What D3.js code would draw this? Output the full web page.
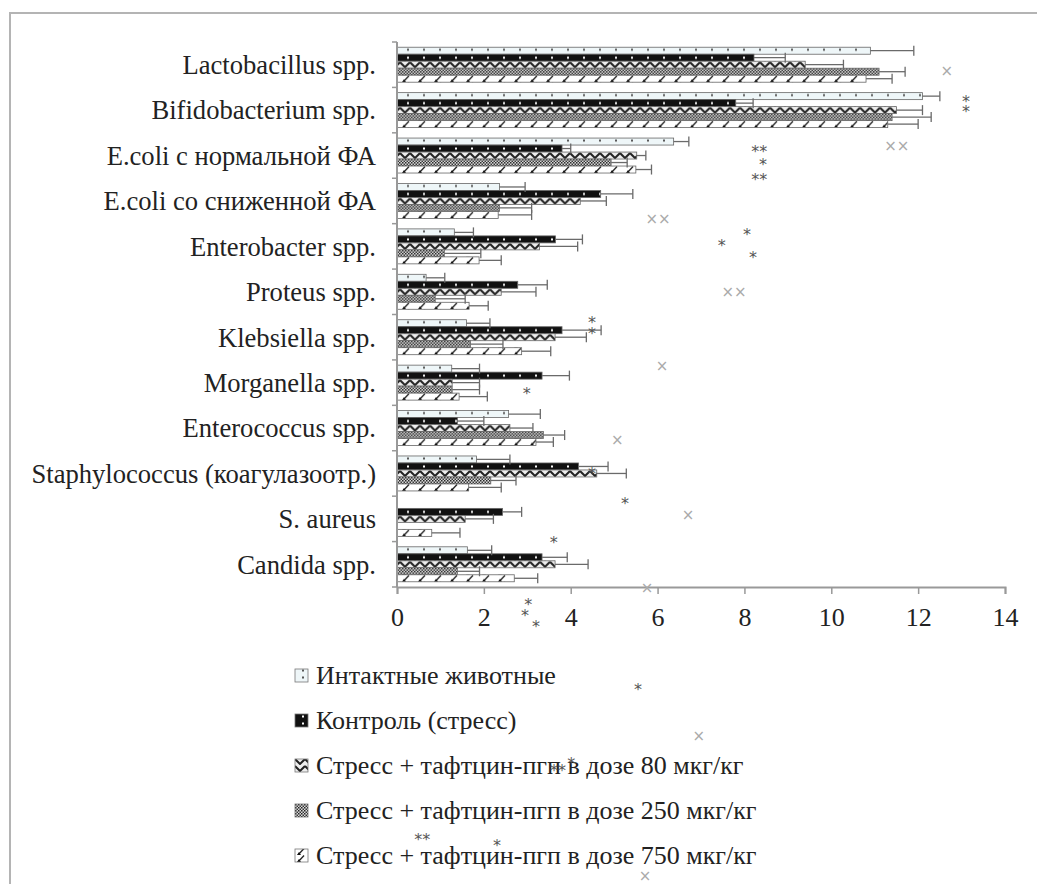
<!DOCTYPE html>
<html>
<head>
<meta charset="utf-8">
<script src="https://cdn.jsdelivr.net/npm/d3@7"></script>
</head>
<body style="margin:0">
<svg id="chart" width="1037" height="884"></svg>
<script>
// ---------- data ----------
const categories = [
  "Lactobacillus spp.",
  "Bifidobacterium spp.",
  "E.coli с нормальной ФА",
  "E.coli со сниженной ФА",
  "Enterobacter spp.",
  "Proteus spp.",
  "Klebsiella spp.",
  "Morganella spp.",
  "Enterococcus spp.",
  "Staphylococcus (коагулазоотр.)",
  "S. aureus",
  "Candida spp."
];
const seriesNames = [
  "Интактные животные",
  "Контроль (стресс)",
  "Стресс + тафтцин-пгп в дозе 80 мкг/кг",
  "Стресс + тафтцин-пгп в дозе 250 мкг/кг",
  "Стресс + тафтцин-пгп в дозе 750 мкг/кг"
];
const intactValues  = [10.9, 12.1, 6.37, 2.36, 1.32, 0.67, 1.60, 1.26, 2.57, 1.83, 0.00, 1.62];
const intactErrors  = [1.00, 0.40, 0.35, 0.59, 0.44, 0.43, 0.54, 0.64, 0.73, 0.77, 0.00, 0.56];
const controlValues = [8.22, 7.80, 3.80, 4.69, 3.65, 2.78, 3.80, 3.34, 1.39, 4.18, 2.43, 3.34];
const controlErrors = [0.72, 0.40, 0.20, 0.74, 0.62, 0.68, 0.90, 0.63, 0.61, 0.68, 0.44, 0.58];
const dose80Values  = [9.40, 11.5, 5.52, 4.22, 3.28, 2.40, 3.64, 1.27, 2.60, 4.60, 1.57, 3.64];
const dose80Errors  = [0.88, 0.60, 0.21, 0.60, 0.88, 0.80, 0.72, 0.63, 0.53, 0.68, 0.65, 0.76];
const dose250Values = [11.1, 11.4, 4.93, 2.36, 1.09, 0.88, 1.69, 1.27, 3.37, 2.16, 0.00, 1.39];
const dose250Errors = [0.60, 0.90, 0.37, 0.74, 0.84, 0.69, 0.75, 0.63, 0.49, 0.58, 0.00, 0.51];
const dose750Values = [10.8, 11.3, 5.50, 2.33, 1.89, 1.66, 2.87, 1.43, 3.20, 1.65, 0.80, 2.70];
const dose750Errors = [0.60, 0.70, 0.36, 0.77, 0.51, 0.44, 0.67, 0.65, 0.40, 0.75, 0.65, 0.54];
const xTicks = [0, 2, 4, 6, 8, 10, 12, 14];

// stray significance marks of the source picture: [x value, row position (in category rows), text]
const starMarks = [
  [13.10, 1.21, "*"], [13.10, 1.45, "*"],
  [8.34, 2.31, "**"], [8.43, 2.60, "*"], [8.34, 2.93, "**"],
  [8.06, 4.14, "*"], [7.48, 4.40, "*"], [8.20, 4.65, "*"],
  [4.49, 6.08, "*"], [4.49, 6.32, "*"], [2.99, 7.66, "*"],
  [4.49, 9.40, "*"], [5.25, 10.08, "*"], [3.61, 10.94, "*"],
  [3.02, 12.29, "*"], [2.95, 12.53, "*"], [3.20, 12.77, "*"],
  [5.55, 14.16, "*"], [3.71, 15.96, "**"], [4.01, 15.79, "*"],
  [0.58, 17.46, "**"], [2.30, 17.61, "*"]
];
const crossMarks = [
  [12.66, 0.64, "×"], [11.51, 2.29, "××"], [6.01, 3.90, "××"],
  [7.76, 5.50, "××"], [6.10, 7.13, "×"], [5.07, 8.76, "×"],
  [6.70, 10.41, "×"], [5.76, 12.02, "×"], [6.95, 15.28, "×"],
  [5.71, 18.36, "×"]
];

const seriesValues = [intactValues, controlValues, dose80Values, dose250Values, dose750Values];
const seriesErrors = [intactErrors, controlErrors, dose80Errors, dose250Errors, dose750Errors];

const SERIF = "'Liberation Serif'";

// ---------- layout ----------
const svg = d3.select("#chart");
const plotLeft = 397, plotRight = 1005, plotTop = 42, plotBottom = 587;

const x = d3.scaleLinear().domain([0, 14]).range([plotLeft, plotRight]);
const y0 = d3.scaleBand().domain(categories).range([plotTop, plotBottom])
  .paddingInner(0.23).paddingOuter(0.115);
const y1 = d3.scaleBand().domain(d3.range(seriesNames.length)).range([0, y0.bandwidth()]);
const rowScale = d3.scaleLinear().domain([0, categories.length]).range([plotTop, plotBottom]);

// ---------- patterns ----------
const defs = svg.append("defs");
function pat(id, w, h, draw) {
  const p = defs.append("pattern").attr("id", id).attr("patternUnits", "userSpaceOnUse")
    .attr("width", w).attr("height", h);
  draw(p);
}
pat("p0", 16, 7, p => {
  p.append("rect").attr("width", 16).attr("height", 7).attr("fill", "#eef6f8");
  p.append("rect").attr("x", 7).attr("y", 1.5).attr("width", 2).attr("height", 2).attr("fill", "#555");
});
pat("p1", 16, 7, p => {
  p.append("rect").attr("width", 16).attr("height", 7).attr("fill", "#111");
  p.append("rect").attr("x", 7).attr("y", 2.5).attr("width", 2).attr("height", 2).attr("fill", "#fff");
});
pat("p2", 10, 7, p => {
  p.append("rect").attr("width", 10).attr("height", 7).attr("fill", "#eee");
  p.append("path").attr("d", "M0,1 L5,6 L10,1").attr("fill", "none").attr("stroke", "#222").attr("stroke-width", 2);
});
pat("p3", 3, 3, p => {
  p.append("rect").attr("width", 3).attr("height", 3).attr("fill", "#ddd");
  p.append("rect").attr("x", 0).attr("y", 0).attr("width", 1.5).attr("height", 1.5).attr("fill", "#222");
  p.append("rect").attr("x", 1.5).attr("y", 1.5).attr("width", 1.5).attr("height", 1.5).attr("fill", "#333");
});
pat("p4", 16, 7, p => {
  p.append("rect").attr("width", 16).attr("height", 7).attr("fill", "#fff");
  p.append("path").attr("d", "M3,7 L9,0.5").attr("stroke", "#222").attr("stroke-width", 1.3);
  p.append("path").attr("d", "M2,7 L6,7 L4,4 Z").attr("fill", "#111");
});

// ---------- frame ----------
svg.append("path").attr("d", "M10,884 L10,13 L1037,13")
  .attr("fill", "none").attr("stroke", "#b4b4b4").attr("stroke-width", 2);

// ---------- bars ----------
const groups = svg.append("g").selectAll("g").data(categories).join("g")
  .attr("transform", d => `translate(0,${y0(d)})`);

groups.selectAll("rect").data((c, ci) => seriesValues.map((vals, si) => ({ si, v: vals[ci] })))
  .join("rect")
  .filter(d => d.v > 0)
  .attr("x", x(0))
  .attr("y", d => y1(d.si))
  .attr("width", d => x(d.v) - x(0))
  .attr("height", y1.bandwidth())
  .attr("fill", d => `url(#p${d.si})`)
  .attr("stroke", "#666").attr("stroke-width", 0.8);

// error bars
const errData = [];
categories.forEach((c, ci) => seriesValues.forEach((vals, si) => {
  if (vals[ci] > 0) errData.push({ c, si, v: vals[ci], e: seriesErrors[si][ci] });
}));
const eg = svg.append("g").attr("stroke", "#6a6a6a").attr("stroke-width", 1.3);
eg.selectAll("line.h").data(errData).join("line").attr("class", "h")
  .attr("x1", d => x(d.v)).attr("x2", d => x(d.v + d.e))
  .attr("y1", d => y0(d.c) + y1(d.si) + y1.bandwidth() / 2)
  .attr("y2", d => y0(d.c) + y1(d.si) + y1.bandwidth() / 2);
eg.selectAll("line.c").data(errData).join("line").attr("class", "c")
  .attr("x1", d => x(d.v + d.e)).attr("x2", d => x(d.v + d.e))
  .attr("y1", d => y0(d.c) + y1(d.si) + y1.bandwidth() / 2 - 5)
  .attr("y2", d => y0(d.c) + y1(d.si) + y1.bandwidth() / 2 + 5);

// ---------- axes ----------
const xAxis = d3.axisBottom(x).tickValues(xTicks).tickSize(7).tickPadding(14).tickFormat(d3.format("d"));
const gx = svg.append("g").attr("transform", `translate(0,${plotBottom})`).call(xAxis);
gx.attr("font-family", null).attr("font-size", null);
gx.select(".domain").attr("stroke", "#999").attr("stroke-width", 2);
gx.selectAll(".tick line").attr("stroke", "#999").attr("stroke-width", 1.5);
gx.selectAll(".tick text").style("font-family", SERIF).style("font-size", "26px").attr("fill", "#222");

const boundaries = d3.range(categories.length + 1);
const gy = svg.append("g");
gy.append("line").attr("x1", plotLeft).attr("x2", plotLeft).attr("y1", plotTop).attr("y2", plotBottom)
  .attr("stroke", "#999").attr("stroke-width", 2);
gy.selectAll("line.t").data(boundaries).join("line").attr("class", "t")
  .attr("x1", plotLeft - 5).attr("x2", plotLeft)
  .attr("y1", d => rowScale(d)).attr("y2", d => rowScale(d))
  .attr("stroke", "#999").attr("stroke-width", 1.5);
gy.selectAll("text").data(categories).join("text")
  .attr("x", 376).attr("y", d => y0(d) + y0.bandwidth() / 2)
  .attr("dy", "0.35em").attr("text-anchor", "end")
  .style("font-family", SERIF).style("font-size", "26.6px").attr("fill", "#222").text(d => d);

// ---------- legend ----------
const legendTop = 675, legendStep = 45;
const lg = svg.append("g").selectAll("g").data(seriesNames).join("g")
  .attr("transform", (d, i) => `translate(295,${legendTop + i * legendStep})`);
lg.append("rect").attr("x", 0).attr("y", -6).attr("width", 13).attr("height", 13)
  .attr("fill", (d, i) => `url(#p${i})`).attr("stroke", "#777").attr("stroke-width", 0.8);
lg.append("text").attr("x", 21).attr("y", 0).attr("dy", "0.35em")
  .style("font-family", SERIF).style("font-size", "26px").attr("fill", "#222").text(d => d);

// ---------- stray marks ----------
svg.append("g").selectAll("text").data(starMarks).join("text")
  .attr("x", d => x(d[0])).attr("y", d => rowScale(d[1]))
  .attr("dy", "0.6em").attr("text-anchor", "middle")
  .style("font-family", "'DejaVu Sans'").style("font-size", "16px").attr("fill", "#555")
  .text(d => d[2]);
svg.append("g").selectAll("text").data(crossMarks).join("text")
  .attr("x", d => x(d[0])).attr("y", d => rowScale(d[1]))
  .attr("dy", "0.35em").attr("text-anchor", "middle")
  .style("font-family", "'DejaVu Sans'").style("font-size", "15px").attr("fill", "#aaa")
  .text(d => d[2]);
</script>
</body>
</html>
